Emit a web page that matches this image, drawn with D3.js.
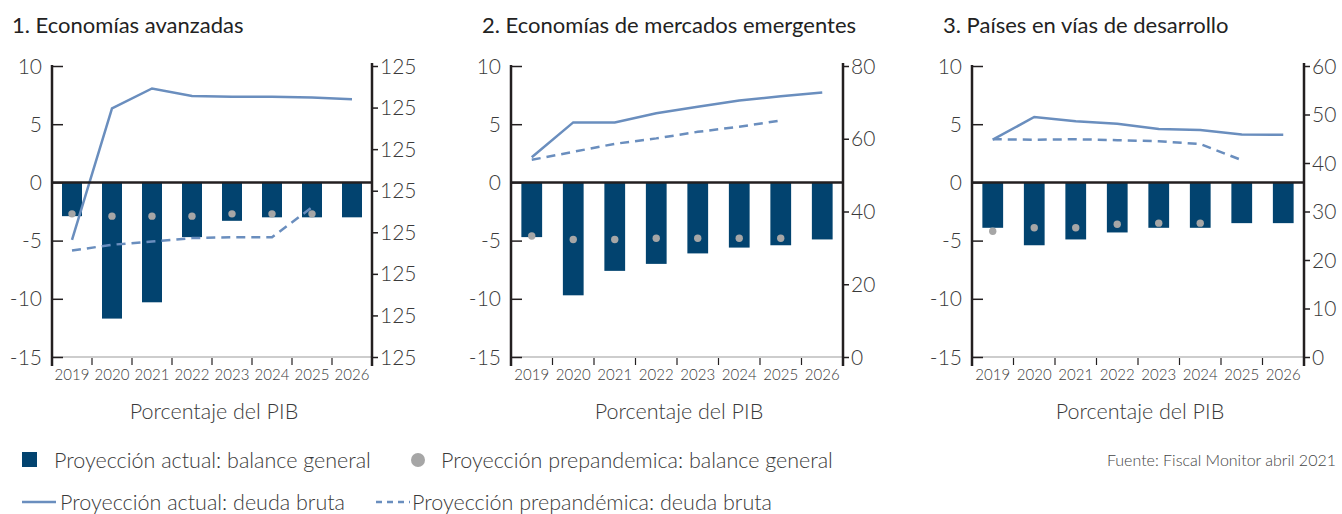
<!DOCTYPE html>
<html>
<head>
<meta charset="utf-8">
<script src="https://cdn.jsdelivr.net/npm/d3@7"></script>
<style>
  body { margin: 0; background: #fff; }
  svg { display: block; font-family: Lato, "Open Sans", sans-serif; }
</style>
</head>
<body>
<svg width="1342" height="514"></svg>
<script>
(function () {
  'use strict';

  const years = ['2019', '2020', '2021', '2022', '2023', '2024', '2025', '2026'];
  const titles = ['1. Economías avanzadas', '2. Economías de mercados emergentes', '3. Países en vías de desarrollo'];
  const balanceTicks = [10, 5, 0, -5, -10, -15];

  // 1. Economías avanzadas
  const avBalance = [-2.9, -11.7, -10.3, -4.7, -3.3, -3.0, -3.0, -3.0];
  const avPreBalance = [-2.7, -2.9, -2.9, -2.9, -2.7, -2.7, -2.7, null];
  const avDebt = [104.1, 119.9, 122.3, 121.4, 121.3, 121.3, 121.2, 121.0];
  const avPreDebt = [102.8, 103.5, 103.9, 104.3, 104.4, 104.4, 108.0, null];
  const avDebtTicks = [90, 95, 100, 105, 110, 115, 120, 125];
  const avDebtLabels = ['125', '125', '125', '125', '125', '125', '125', '125'];

  // 2. Economías de mercados emergentes
  const emBalance = [-4.7, -9.7, -7.6, -7.0, -6.1, -5.6, -5.4, -4.9];
  const emPreBalance = [-4.6, -4.9, -4.9, -4.8, -4.8, -4.8, -4.8, null];
  const emDebt = [54.9, 64.5, 64.5, 67.0, 68.8, 70.5, 71.7, 72.7];
  const emPreDebt = [54.2, 56.4, 58.6, 60.1, 61.9, 63.3, 65.0, null];
  const emDebtTicks = [0, 20, 40, 60, 80];
  const emDebtLabels = ['0', '20', '40', '60', '80'];

  // 3. Países en vías de desarrollo
  const ldBalance = [-3.9, -5.4, -4.9, -4.3, -3.9, -3.9, -3.5, -3.5];
  const ldPreBalance = [-4.2, -3.9, -3.9, -3.6, -3.5, -3.5, null, null];
  const ldDebt = [44.8, 49.5, 48.6, 48.1, 47.0, 46.8, 45.9, 45.8];
  const ldPreDebt = [44.9, 44.8, 44.9, 44.7, 44.5, 43.9, 40.6, null];
  const ldDebtTicks = [0, 10, 20, 30, 40, 50, 60];
  const ldDebtLabels = ['0', '10', '20', '30', '40', '50', '60'];

  const panels = [
    {title: titles[0], tx: 12, x0: 52, x1: 372, bal: avBalance, pre: avPreBalance, debt: avDebt, preDebt: avPreDebt,
     rDomain: [90, 125], rTicks: avDebtTicks, rLabels: avDebtLabels},
    {title: titles[1], tx: 482, x0: 511, x1: 843, bal: emBalance, pre: emPreBalance, debt: emDebt, preDebt: emPreDebt,
     rDomain: [0, 80], rTicks: emDebtTicks, rLabels: emDebtLabels},
    {title: titles[2], tx: 943, x0: 972, x1: 1304, bal: ldBalance, pre: ldPreBalance, debt: ldDebt, preDebt: ldPreDebt,
     rDomain: [0, 60], rTicks: ldDebtTicks, rLabels: ldDebtLabels}
  ];

  const top = 66, bottom = 357;
  const barColor = '#02436f';
  const lineColor = '#6a8ebe';
  const dotColor = '#a6a6a6';
  const axisColor = '#231f20';
  const textColor = '#3a3a3a';

  const svg = d3.select('svg');

  panels.forEach(p => {
    const g = svg.append('g');

    const x = d3.scaleBand()
      .domain(years)
      .range([p.x0, p.x1])
      .paddingInner(0.5)
      .paddingOuter(0.25);
    const cx = (d) => x(d) + x.bandwidth() / 2;

    const y = d3.scaleLinear().domain([-15, 10]).range([bottom, top]);
    const yr = d3.scaleLinear().domain(p.rDomain).range([bottom, top]);

    // title
    g.append('text')
      .attr('x', p.tx)
      .attr('y', 33)
      .text(p.title)
      .style('font-size', '22px')
      .style('font-weight', 400)
      .style('fill', '#222');

    // bottom gray line
    g.append('line')
      .attr('x1', p.x0).attr('x2', p.x1)
      .attr('y1', bottom).attr('y2', bottom)
      .attr('stroke', '#bdbdbd').attr('stroke-width', 1.5);

    // bars
    g.selectAll('.bar')
      .data(years)
      .enter()
      .append('rect')
        .attr('class', 'bar')
        .attr('x', (d) => x(d))
        .attr('width', x.bandwidth())
        .attr('y', y(0))
        .attr('height', (d, i) => y(p.bal[i]) - y(0))
        .style('fill', barColor);

    // prepandemic balance dots
    g.selectAll('.dot')
      .data(years.filter((d, i) => p.pre[i] !== null))
      .enter()
      .append('circle')
        .attr('class', 'dot')
        .attr('cx', (d) => cx(d))
        .attr('cy', (d) => y(p.pre[years.indexOf(d)]))
        .attr('r', 3.7)
        .style('fill', dotColor);

    // debt lines
    const line = d3.line()
      .defined((d) => d[1] !== null)
      .x((d) => cx(d[0]))
      .y((d) => yr(d[1]));

    g.append('path')
      .datum(years.map((d, i) => [d, p.debt[i]]))
      .attr('d', line)
      .attr('fill', 'none')
      .attr('stroke', lineColor)
      .attr('stroke-width', 2.5);

    g.append('path')
      .datum(years.map((d, i) => [d, p.preDebt[i]]))
      .attr('d', line)
      .attr('fill', 'none')
      .attr('stroke', lineColor)
      .attr('stroke-width', 2.5)
      .attr('stroke-dasharray', '9,6');

    // zero line
    g.append('line')
      .attr('x1', p.x0).attr('x2', p.x1)
      .attr('y1', y(0)).attr('y2', y(0))
      .attr('stroke', axisColor).attr('stroke-width', 2.5);

    // left axis
    const leftAxis = g.append('g')
      .attr('transform', `translate(${p.x0},0)`)
      .call(d3.axisRight(y).tickValues(balanceTicks).tickSize(11).tickFormat(''));
    leftAxis.select('.domain').remove();
    leftAxis.selectAll('line').attr('stroke', axisColor).attr('stroke-width', 1.5);
    g.append('line')
      .attr('x1', p.x0).attr('x2', p.x0)
      .attr('y1', top - 1).attr('y2', bottom + 9)
      .attr('stroke', axisColor).attr('stroke-width', 2.5);
    g.selectAll('.ylab')
      .data(balanceTicks)
      .enter()
      .append('text')
        .attr('class', 'ylab')
        .attr('x', p.x0 - 10)
        .attr('y', (d) => y(d))
        .attr('dy', '0.36em')
        .attr('text-anchor', 'end')
        .text((d) => d)
        .style('font-size', '21px')
        .style('font-weight', 300)
        .style('fill', textColor);

    // right axis
    const rightAxis = g.append('g')
      .attr('transform', `translate(${p.x1},0)`)
      .call(d3.axisRight(yr).tickValues(p.rTicks).tickSize(6).tickFormat(''));
    rightAxis.select('.domain').remove();
    rightAxis.selectAll('line').attr('stroke', axisColor).attr('stroke-width', 1.5);
    g.append('line')
      .attr('x1', p.x1).attr('x2', p.x1)
      .attr('y1', top - 3).attr('y2', bottom + 9)
      .attr('stroke', axisColor).attr('stroke-width', 2.5);
    g.selectAll('.rlab')
      .data(p.rTicks)
      .enter()
      .append('text')
        .attr('class', 'rlab')
        .attr('x', p.x1 + 8)
        .attr('y', (d) => yr(d))
        .attr('dy', '0.36em')
        .text((d, i) => p.rLabels[i])
        .style('font-size', '21px')
        .style('font-weight', 300)
        .style('fill', textColor);

    // x axis: separators between bands and year labels
    g.selectAll('.sep')
      .data(years.slice(1))
      .enter()
      .append('line')
        .attr('class', 'sep')
        .attr('x1', (d) => x(d) - x.step() * 0.25)
        .attr('x2', (d) => x(d) - x.step() * 0.25)
        .attr('y1', bottom + 1)
        .attr('y2', bottom + 8)
        .attr('stroke', axisColor)
        .attr('stroke-width', 1.2);
    g.selectAll('.xlab')
      .data(years)
      .enter()
      .append('text')
        .attr('class', 'xlab')
        .attr('x', (d) => cx(d))
        .attr('y', bottom + 23)
        .attr('text-anchor', 'middle')
        .text((d) => d)
        .style('font-size', '15px')
        .style('font-weight', 300)
        .style('fill', textColor);

    g.append('text')
      .attr('x', (p.x0 + p.x1) / 2 + 2)
      .attr('y', 419)
      .attr('text-anchor', 'middle')
      .text('Porcentaje del PIB')
      .style('font-size', '21.5px')
      .style('font-weight', 300)
      .style('fill', textColor);
  });

  // legend
  const legend = svg.append('g');
  legend.append('rect')
    .attr('x', 22).attr('y', 452).attr('width', 15).attr('height', 15)
    .style('fill', barColor);
  legend.append('text')
    .attr('x', 54).attr('y', 468)
    .text('Proyección actual: balance general');
  legend.append('circle')
    .attr('cx', 418).attr('cy', 460).attr('r', 7)
    .style('fill', dotColor);
  legend.append('text')
    .attr('x', 441).attr('y', 468)
    .text('Proyección prepandemica: balance general');
  legend.append('line')
    .attr('x1', 22).attr('x2', 56).attr('y1', 502).attr('y2', 502)
    .attr('stroke', lineColor).attr('stroke-width', 2.5);
  legend.append('text')
    .attr('x', 60).attr('y', 510)
    .text('Proyección actual: deuda bruta');
  legend.append('line')
    .attr('x1', 376).attr('x2', 410).attr('y1', 502).attr('y2', 502)
    .attr('stroke', lineColor).attr('stroke-width', 2.5)
    .attr('stroke-dasharray', '6,5');
  legend.append('text')
    .attr('x', 412).attr('y', 510)
    .text('Proyección prepandémica: deuda bruta');
  legend.selectAll('text')
    .style('font-size', '21.5px')
    .style('font-weight', 300)
    .style('fill', textColor);

  svg.append('text')
    .attr('x', 1336).attr('y', 466)
    .attr('text-anchor', 'end')
    .text('Fuente: Fiscal Monitor abril 2021')
    .style('font-size', '16px')
    .style('font-weight', 300)
    .style('fill', '#444');
}());
</script>
</body>
</html>
